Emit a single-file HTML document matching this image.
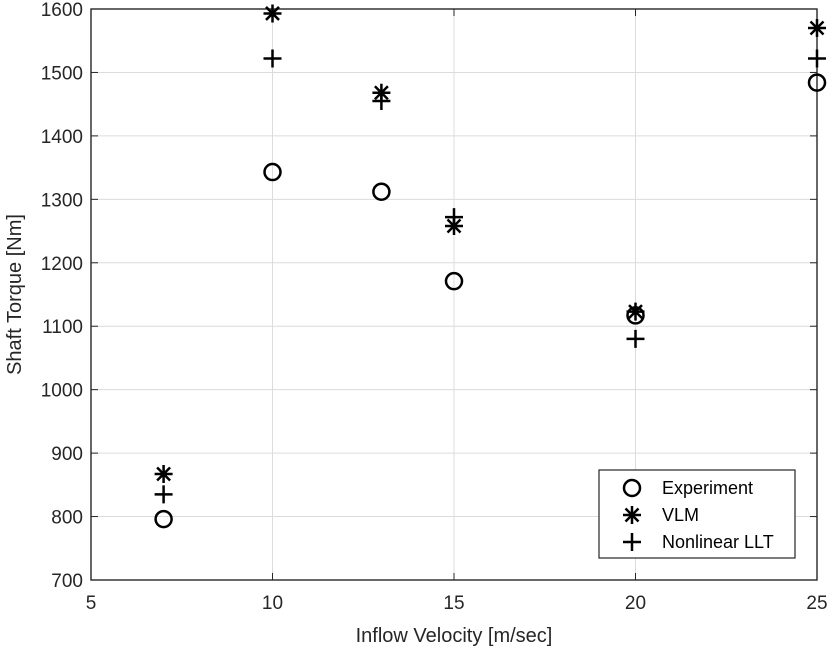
<!DOCTYPE html>
<html><head><meta charset="utf-8"><style>
body{margin:0;background:#fff}
svg{display:block;font-family:"Liberation Sans",Arial,sans-serif}
</style></head><body>
<svg id="c" width="833" height="652" viewBox="0 0 833 652"></svg>
<script>
const xTicks=[5,10,15,20,25];
const yTicks=[700,800,900,1000,1100,1200,1300,1400,1500,1600];
const velocities=[7,10,13,15,20,25];
const experiment=[796,1343,1312,1171,1117,1484];
const vlm=[867,1593,1468,1258,1123,1570];
const llt=[835,1522,1455,1272,1080,1522];
const L=91,R=817,T=9,B=580;
const sx=v=>L+(v-5)/20*(R-L);
const sy=v=>B-(v-700)/900*(B-T);
const svg=document.getElementById('c');
const NS='http://www.w3.org/2000/svg';
function mk(tag,attrs,parent){const e=document.createElementNS(NS,tag);for(const k in attrs)e.setAttribute(k,attrs[k]);(parent||svg).appendChild(e);return e;}
const grid=mk('g',{});


xTicks.forEach(v=>{
  const l=mk('line',{x1:sx(v),x2:sx(v),y1:T,y2:B,stroke:'#dcdcdc','stroke-width':1},grid);
  
  
  const t=mk('text',{x:sx(v),y:B+29,'text-anchor':'middle','font-size':19,fill:'#262626'});
  t.textContent=v;
  
  
  mk('line',{x1:sx(v),x2:sx(v),y1:B,y2:B-7,stroke:'#262626'});
  mk('line',{x1:sx(v),x2:sx(v),y1:T,y2:T+7,stroke:'#262626'});
});
yTicks.forEach(v=>{
  const l=mk('line',{x1:L,x2:R,y1:sy(v),y2:sy(v),stroke:'#dcdcdc','stroke-width':1},grid);
  
  
  const t=mk('text',{x:L-8,y:sy(v)+7,'text-anchor':'end','font-size':19,fill:'#262626'});
  t.textContent=v;
  
  
  mk('line',{x1:L,x2:L+7,y1:sy(v),y2:sy(v),stroke:'#262626'});
  mk('line',{x1:R,x2:R-7,y1:sy(v),y2:sy(v),stroke:'#262626'});
});
const box=mk('rect',{x:L,y:T,width:R-L,height:B-T,fill:'none',stroke:'#262626','stroke-width':1.4});


const xt=mk('text',{x:(L+R)/2,y:642,'text-anchor':'middle','font-size':20,fill:'#262626'});
xt.textContent='Inflow Velocity [m/sec]';


const yt=mk('text',{x:0,y:0,'text-anchor':'middle','font-size':20,fill:'#262626',transform:`translate(21,${(T+B)/2}) rotate(-90)`});
yt.textContent='Shaft Torque [Nm]';


function circle(x,y,g){mk('circle',{cx:x,cy:y,r:8,fill:'none',stroke:'#000','stroke-width':2.5},g);}
function plus(x,y,g){mk('path',{d:`M${x-9} ${y}H${x+9}M${x} ${y-9}V${y+9}`,stroke:'#000','stroke-width':2.5,fill:'none'},g);}
function star(x,y,g){mk('path',{d:`M${x-9} ${y}H${x+9}M${x} ${y-9}V${y+9}M${x-6.5} ${y-6.5}L${x+6.5} ${y+6.5}M${x-6.5} ${y+6.5}L${x+6.5} ${y-6.5}`,stroke:'#000','stroke-width':2.5,fill:'none'},g);}
[[experiment,circle,'experiment'],[vlm,star,'vlm'],[llt,plus,'nonlinear-llt']].forEach(([arr,fn,name])=>{
  const g=mk('g',{});
  
  
  arr.forEach((v,i)=>fn(sx(velocities[i]),sy(v),g));
});
const lg=mk('g',{});


mk('rect',{x:599,y:470,width:196,height:88,fill:'#fff',stroke:'#262626','stroke-width':1.2},lg);
[['Experiment',circle],['VLM',star],['Nonlinear LLT',plus]].forEach(([lab,fn],i)=>{
  const y=488+i*27;
  fn(632,y,lg);
  const t=mk('text',{x:662,y:y+6,'font-size':18,fill:'#000'},lg);
  t.textContent=lab;
  
  
});
</script>
</body></html>
